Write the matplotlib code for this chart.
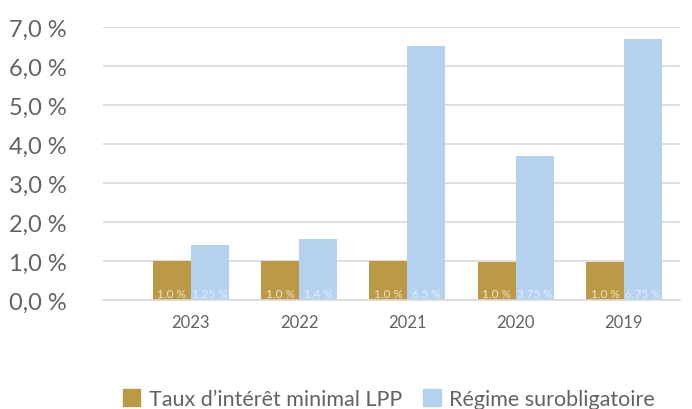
import numpy as np
import matplotlib.pyplot as plt
from matplotlib.patches import Patch

plt.rcParams["font.family"] = ["Lato", "DejaVu Sans"]

years = ["2023", "2022", "2021", "2020", "2019"]
lpp_values = [1.0, 1.0, 1.0, 0.97, 0.97]
suro_values = [1.4, 1.55, 6.5, 3.7, 6.7]
lpp_labels = ["1.0 %", "1.0 %", "1.0 %", "1.0 %", "1.0 %"]
suro_labels = ["1.25 %", "1.4 %", "6.5 %", "3.75 %", "6.75 %"]
series_names = ["Taux d\u2019intérêt minimal LPP", "Régime surobligatoire"]

GOLD = "#BC9A45"
BLUE = "#B4D2F0"
GREY = "#636363"

fig = plt.figure(figsize=(6.92, 4.10), dpi=100)
ax = fig.add_axes([0.149, 0.266, 0.834, 0.666])

x = np.arange(len(years))
w = 0.35
ax.bar(x - w / 2, lpp_values, w, color=GOLD, zorder=2)
ax.bar(x + w / 2, suro_values, w, color=BLUE, zorder=2)

# étiquettes en bas des barres
for i in range(len(years)):
    ax.text(x[i] - w / 2, 0.03, lpp_labels[i], ha="center", va="bottom",
            fontsize=8.5, color="#EDE2C4", zorder=3)
    ax.text(x[i] + w / 2, 0.03, suro_labels[i], ha="center", va="bottom",
            fontsize=8.5, color="#E4EEF9", zorder=3)

ax.set_xlim(-0.81, 4.52)
ax.set_ylim(0, 7)
ax.set_yticks(np.arange(0, 8, 1))
ax.set_yticklabels([f"{v:.1f}".replace(".", ",") + " %" for v in range(8)])
ax.set_xticks(x)
ax.set_xticklabels(years)
ax.tick_params(axis="y", length=0, labelsize=17, labelcolor=GREY, pad=26)
ax.tick_params(axis="x", length=0, labelsize=12, labelcolor=GREY, pad=10)

ax.grid(axis="y", color="#D9D9D9", linewidth=1.2, zorder=0)
for s in ["top", "right", "left"]:
    ax.spines[s].set_visible(False)
ax.spines["bottom"].set_color("#D9D9D9")
ax.spines["bottom"].set_linewidth(1.2)

handles = [Patch(color=GOLD), Patch(color=BLUE)]
leg = fig.legend(handles, series_names, loc="center", bbox_to_anchor=(0.562, 0.025),
                 ncol=2, frameon=False, fontsize=15.5, handlelength=0.8, handleheight=0.8,
                 handletextpad=0.4, columnspacing=1.0)
for t in leg.get_texts():
    t.set_color(GREY)

fig.savefig("out.png", dpi=100)
